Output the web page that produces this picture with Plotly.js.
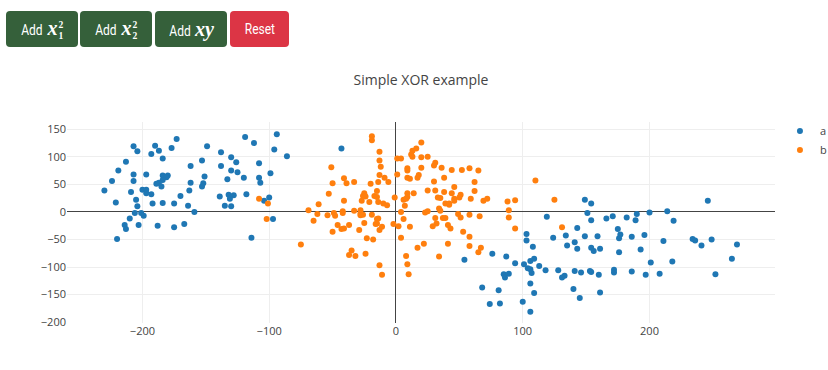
<!DOCTYPE html>
<html>
<head>
<meta charset="utf-8">
<script src="https://cdn.plot.ly/plotly-3.0.1.min.js"></script>
<style>
  html, body { margin: 0; padding: 0; background: #fff; width: 828px; height: 370px; overflow: hidden; }
  #plot { position: absolute; left: 0; top: 0; width: 860px; height: 370px; }
  #buttons { position: absolute; left: 6px; top: 11px; z-index: 10; display: flex; }
  .btn { height: 36px; border: none; border-radius: 4px; color: #fff; font-family: Roboto, sans-serif;
         font-size: 15px; display: flex; align-items: center; justify-content: center; padding: 0; box-sizing: border-box; }
  .btn .lbl { display: inline-block; transform: scaleX(0.8); white-space: nowrap; }
  .green { background: #35603a; width: 72px; margin-right: 2px; }
  .red { background: #dc3545; width: 59px; margin-left: 1px; }
  .m { font-family: "Liberation Serif", serif; font-style: italic; font-weight: bold; font-size: 21px; display: inline-block; transform: scaleX(1.2); margin-left: 7px; }
  .ss { display: inline-flex; flex-direction: column; vertical-align: middle; font-size: 10px; line-height: 10px; margin-left: 3px; font-family: "Liberation Serif", serif; font-weight: bold; transform: scaleX(1.2); }
  .ss span { display: block; height: 10px; line-height: 10px; margin-bottom: 1px; }
</style>
</head>
<body>
<div id="plot"></div>
<div id="buttons">
  <div class="btn green"><span class="lbl">Add<span class="m">x</span><span class="ss"><span>2</span><span>1</span></span></span></div>
  <div class="btn green"><span class="lbl">Add<span class="m">x</span><span class="ss"><span>2</span><span>2</span></span></span></div>
  <div class="btn green" style="margin-left:1px"><span class="lbl">Add<span class="m">xy</span></span></div>
  <div class="btn red"><span class="lbl">Reset</span></div>
</div>
<script>
const aX = [-94,-119,-173,-112,-207,-190,-149,-204,-187,-177,-96,-193,-138,-86,-184,-130,-213,-126,-108,-162,-153,-138,-219,-207,-197,-130,-125,-99,-184,-180,-181,-151,-108,-120,-224,-207,-184,-133,-107,-187,-189,-162,-152,-153,-185,-230,-209,-200,-197,-197,-193,-163,-170,-139,-132,-128,-131,-118,-221,-205,-192,-184,-175,-135,-130,-104,-100,-204,-164,-206,-201,-199,-159,-210,-214,-213,-203,-188,-175,-167,-97,-220,-114,-43,
  119,149,154,151,154,143,134,124,103,103,108,135,141,143,149,159,154,156,161,54,76,87,94,101,106,109,113,104,106,107,85,86,89,118,128,141,146,153,154,160,133,131,68,81,106,109,140,145,161,74,82,100,106,
  246,166,171,182,190,189,200,214,219,175,177,176,186,196,211,234,236,249,241,269,176,193,265,201,218,172,172,186,197,208,252];
const aY = [141,136,132,125,119,120,119,110,111,116,113,105,108,101,97,99,91,90,88,83,93,83,75,68,68,75,72,70,66,66,63,64,62,62,56,56,58,59,53,53,51,53,52,46,46,39,36,40,40,34,32,39,29,28,31,30,24,32,17,22,15,16,15,11,10,20,26,10,11,-2,-2,-7,0,-12,-24,-31,-24,-25,-28,-22,-13,-49,-47,115,
  -9,22,15,-2,-15,-29,-43,-47,-40,-52,-63,-61,-55,-67,-44,-44,-65,-71,-67,-87,-76,-81,-93,-95,-89,-85,-98,-102,-104,-111,-113,-119,-112,-106,-106,-107,-110,-107,-109,-114,-116,-119,-137,-142,-130,-147,-140,-156,-146,-167,-166,-163,-181,
  20,-12,-8,-10,-4,-15,-1,1,-16,-31,-41,-48,-45,-42,-53,-49,-52,-50,-61,-59,-73,-68,-85,-92,-90,-105,-110,-108,-114,-112,-113];
const bX = [-108,-101,-102,-69,-61,-62,-65,
  -19,-19,20,16,13,-13,12,13,1,4,20,25,-13,31,30,-51,-12,9,20,36,9,44,52,58,65,1,-13,18,17,9,11,-41,-9,38,-50,-39,-33,-14,-6,-20,30,62,46,-53,-15,25,31,38,44,62,-25,9,14,-26,-24,-17,-15,9,-1,33,35,46,51,50,59,-41,-27,-21,-14,6,8,46,69,72,-10,-7,7,39,42,42,
  34,35,-33,-28,-42,-42,-49,-28,-26,-28,-19,4,23,25,-54,-48,49,58,66,-15,-14,-16,-15,-25,-37,-46,-41,-43,-50,-29,-13,-11,-2,2,6,11,31,37,39,51,29,32,41,43,53,58,-23,-18,4,-75,-35,-37,-32,-24,17,22,41,58,67,65,8,34,-13,9,-11,10,88,94,89,89,94,110,125,131];
const bY = [24,15,-13,3,14,-4,-16,
  137,130,126,115,111,109,104,100,97,97,99,100,93,89,84,81,82,79,80,80,75,76,76,79,75,68,67,67,62,62,60,61,62,62,52,52,54,54,54,51,55,54,45,33,38,39,39,36,34,38,34,34,34,29,28,29,27,27,26,26,25,24,31,26,24,20,20,18,18,22,24,20,20,24,15,12,11,15,13,15,
  6,2,2,3,1,-2,-2,-3,-5,-6,-5,0,-1,1,-6,-7,-4,-5,-8,-13,-12,-22,-21,-20,-24,-24,-30,-31,-36,-33,-33,-27,-22,-26,-13,-27,-11,-11,-11,-10,-26,-21,-24,-30,-36,-45,-48,-50,-47,-59,-70,-78,-80,-76,-65,-58,-58,-62,-65,-73,-80,-81,-97,-95,-114,-113,19,21,3,-10,-30,57,22,-28];
const seriesNames = ['a', 'b'];
const xRange = [-259.5, 299];
const yRange = [-201.5, 163];
const titleText = 'Simple XOR example';

const traces = [
  {x: aX, y: aY, name: seriesNames[0], mode: 'markers', type: 'scatter', marker: {color: '#1f77b4', size: 6}},
  {x: bX, y: bY, name: seriesNames[1], mode: 'markers', type: 'scatter', marker: {color: '#ff7f0e', size: 6}}
];
const layout = {
  width: 860, height: 370,
  margin: {l: 67, r: 85, t: 122, b: 47},
  font: {family: '"Open Sans", verdana, arial, sans-serif', size: 11, color: '#444'},
  title: {text: titleText, font: {size: 14}, x: 0.5, xref: 'paper', y: 1 - 80/370, yanchor: 'middle'},
  xaxis: {range: xRange, gridcolor: '#eee', zerolinecolor: '#444', dtick: 100, showline: false},
  yaxis: {range: yRange, gridcolor: '#eee', zerolinecolor: '#444', dtick: 50, showline: false},
  legend: {x: 1.007, xanchor: 'left', y: 1.027, font: {size: 11}},
  paper_bgcolor: '#fff', plot_bgcolor: '#fff'
};
Plotly.newPlot('plot', traces, layout, {displayModeBar: false, staticPlot: true});
</script>
</body>
</html>
